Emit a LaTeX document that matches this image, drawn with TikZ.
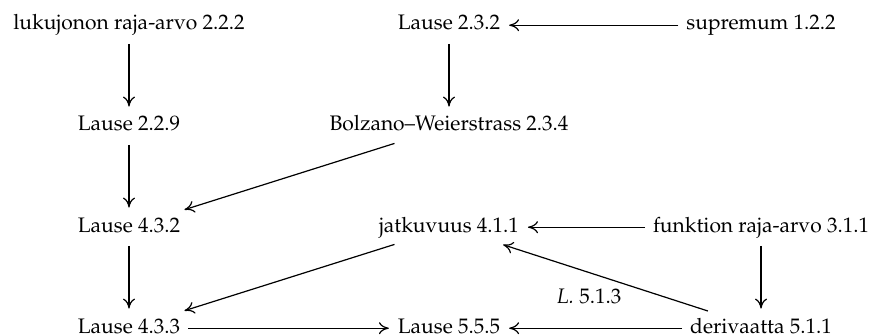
\documentclass[tikz,border=0pt]{standalone}
\usepackage[T1]{fontenc}
\usepackage{mathpazo}
\usetikzlibrary{arrows.meta}
\begin{document}
\begin{tikzpicture}[x=0.5pt,y=-0.5pt,
  obj/.style={anchor=base, inner sep=3pt, outer sep=0pt, text height=7.7pt, text depth=2.9pt, font=\fontsize{10.5}{12}\selectfont},
  arr/.style={-{Computer Modern Rightarrow[length=5pt,width=6pt]}, line width=0.6pt, shorten <=1pt, shorten >=1.5pt},
  lbl/.style={font=\fontsize{10.5}{12}\selectfont, inner sep=2pt}]
\useasboundingbox (0,0) rectangle (870,336);
\node[obj] (a) at (129,30) {lukujonon raja-arvo 2.2.2};
\node[obj] (b) at (449,30) {Lause 2.3.2};
\node[obj] (c) at (761,30) {supremum 1.2.2};
\node[obj] (d) at (129,131) {Lause 2.2.9};
\node[obj] (e) at (449,131) {Bolzano--Weierstrass 2.3.4};
\node[obj] (f) at (129,232) {Lause 4.3.2};
\node[obj] (g) at (449,232) {jatkuvuus 4.1.1};
\node[obj] (h) at (761,232) {funktion raja-arvo 3.1.1};
\node[obj] (i) at (129,333) {Lause 4.3.3};
\node[obj] (j) at (449,333) {Lause 5.5.5};
\node[obj] (k) at (761,333) {derivaatta 5.1.1};
\draw[arr] (a) -- (d);
\draw[arr] (d) -- (f);
\draw[arr] (f) -- (i);
\draw[arr] (b) -- (e);
\draw[arr] (c) -- (b);
\draw[arr] (e) -- (f);
\draw[arr] (h) -- (g);
\draw[arr] (h) -- (k);
\draw[arr] (k) -- node[lbl, pos=0.4, anchor=north east] {\textit{L.}\ 5.1.3} (g);
\draw[arr] (g) -- (i);
\draw[arr] (i) -- (j);
\draw[arr] (k) -- (j);
\end{tikzpicture}
\end{document}
